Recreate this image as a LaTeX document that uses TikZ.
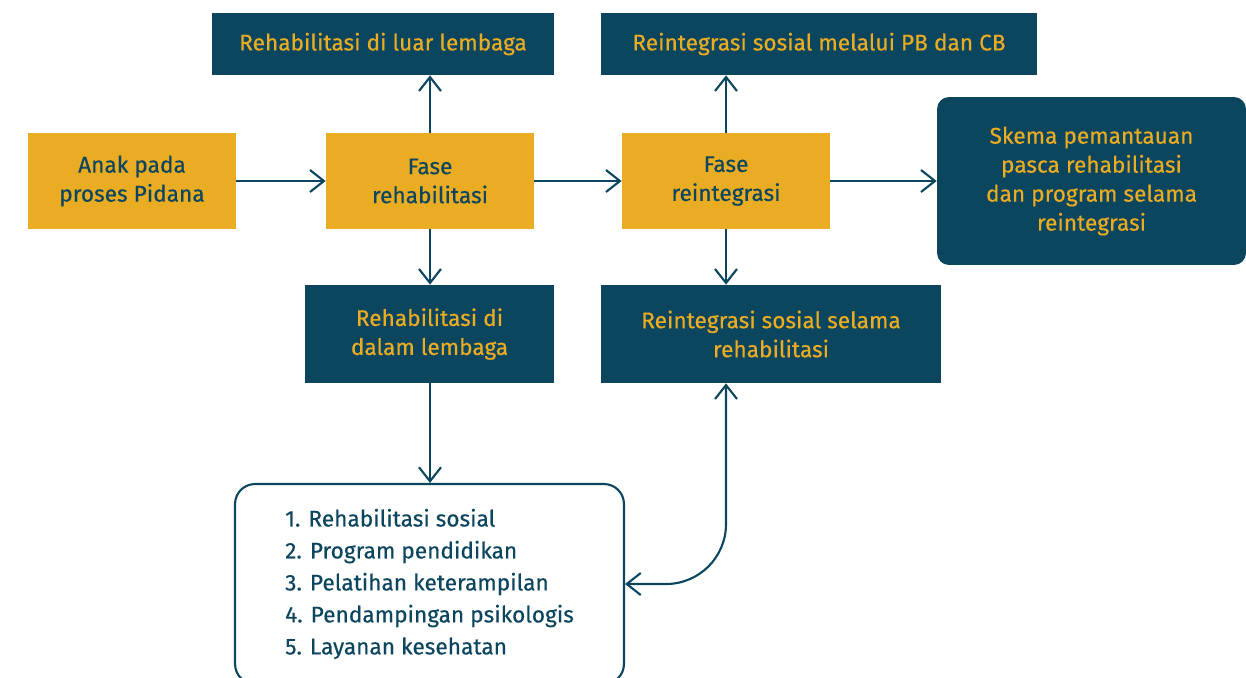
\documentclass[tikz,border=0pt]{standalone}
\usepackage{fontspec}
\setmainfont{Fira Sans}[FakeBold=0.35]
\usetikzlibrary{arrows.meta, positioning, calc}
\definecolor{skygold}{RGB}{234,172,34}
\definecolor{deepnavy}{RGB}{11,69,94}

\begin{document}
\begin{tikzpicture}[x=0.02cm,y=-0.02cm,
  % fase utama: kotak kuning, teks biru
  phase/.style={fill=skygold,minimum width=4.16cm,minimum height=1.92cm,
    font=\fontsize{12.9}{16.5}\selectfont,text=deepnavy,align=center,inner sep=0pt},
  % kotak biru tua, teks kuning
  dark/.style={fill=deepnavy,minimum height=1.24cm,
    font=\fontsize{12.9}{16.5}\selectfont,text=skygold,align=center,inner sep=0pt},
  tip/.tip={Straight Barb[length=2.8mm,width=4.4mm,line width=1.2pt]},
  arr/.style={-tip,line width=1.2pt,draw=deepnavy}]

  \path[use as bounding box,clip] (0,0) rectangle (1246,677);

  \node[phase](anak) at (132,181){Anak pada\\proses Pidana};
  \node[phase](rehab) at (430,181){Fase\\rehabilitasi};
  \node[phase](reint) at (726,181){Fase\\reintegrasi};
  \node[dark,minimum width=6.18cm,minimum height=3.36cm,rounded corners=0.24cm](skema)
    at (1091.5,181){Skema pemantauan\\pasca rehabilitasi\\dan program selama\\reintegrasi};

  \node[dark,minimum width=6.84cm](luar) at (383,44){Rehabilitasi di luar lembaga};
  \node[dark,minimum width=8.72cm](pbcb) at (819,44){Reintegrasi sosial melalui PB dan CB};
  \node[dark,minimum width=4.98cm,minimum height=1.96cm](dalam) at (429.5,334)
    {Rehabilitasi di\\dalam lembaga};
  \node[dark,minimum width=6.8cm,minimum height=1.96cm](selama) at (771,334)
    {Reintegrasi sosial selama\\rehabilitasi};

  \node[draw=deepnavy,line width=1.2pt,fill=white,rounded corners=0.4cm,
    minimum width=7.78cm,minimum height=4cm,text=deepnavy,align=left,
    font=\fontsize{12.9}{18.2}\selectfont](program) at (429.5,584)
    {1. Rehabilitasi sosial\\2. Program pendidikan\\3. Pelatihan keterampilan\\4. Pendampingan psikologis\\5. Layanan kesehatan};

  \draw[arr](anak.east)--(rehab.west);
  \draw[arr](rehab.east)--(reint.west);
  \draw[arr](reint.east)--(skema.west);
  \draw[arr](rehab.north)--(rehab.north |- luar.south);
  \draw[arr](rehab.south)--(rehab.south |- dalam.north);
  \draw[arr](reint.north)--(reint.north |- pbcb.south);
  \draw[arr](reint.south)--(reint.south |- selama.north);
  \draw[arr](rehab.south |- dalam.south)--(rehab.south |- program.north);
  \draw[arr,tip-tip,rounded corners=1.2cm]
    (reint.south |- selama.south) |- (program.east);

\end{tikzpicture}
\end{document}
